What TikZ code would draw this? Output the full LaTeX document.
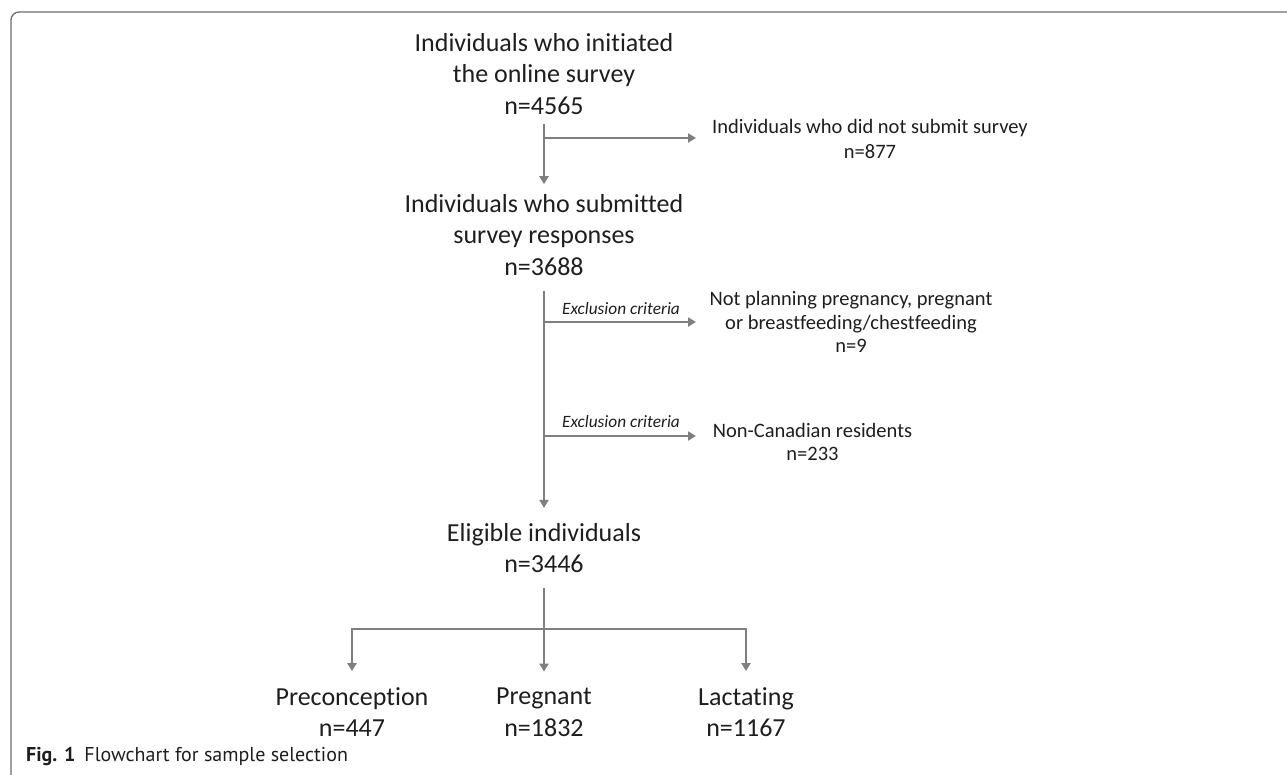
\documentclass[tikz,border=0pt]{standalone}
\usepackage{fontspec}
\setmainfont{Carlito}[Ligatures=NoCommon]
\newfontfamily\capfont{PT Sans}
\usetikzlibrary{arrows.meta}
\definecolor{arrowgray}{HTML}{7F7F7F}
\definecolor{textcol}{HTML}{1E1E1E}
\definecolor{framecol}{HTML}{6A6A6A}
\begin{document}
\begin{tikzpicture}[x=1pt,y=-1pt,
  line/.style={draw=arrowgray, line width=2.2pt},
  flow/.style={line, -{Triangle[width=9pt,length=8pt]}},
  bigbox/.style={align=center, inner sep=0pt, text=textcol, font=\fontsize{26}{31.5}\selectfont},
  sidebox/.style={align=center, inner sep=0pt, text=textcol, font=\fontsize{20.5}{24.5}\selectfont},
  midbox/.style={align=center, inner sep=0pt, text=textcol, font=\fontsize{20.5}{23.5}\selectfont},
  critlabel/.style={inner sep=0pt, text=textcol, font=\fontsize{17.3}{20}\selectfont\itshape},
  ]
\useasboundingbox (0,0) rectangle (1287,774);
\draw[framecol, line width=1.3pt, rounded corners=8pt] (11,780) -- (11,12) -- (1295,12);

% main column
\node[bigbox] (n1) at (544,74) {Individuals who initiated\\the online survey\\n=4565};
\node[bigbox] (n2) at (544,235) {Individuals who submitted\\survey responses\\n=3688};
\node[bigbox] (n3) at (544,548) {Eligible individuals\\n=3446};
\node[bigbox] (p1) at (352,712) {Preconception\\n=447};
\node[bigbox] (p2) at (544,712) {Pregnant\\n=1832};
\node[bigbox] (p3) at (746,712) {Lactating\\n=1167};

% side boxes
\node[sidebox] (r1) at (870,139) {Individuals who did not submit survey\\n=877};
\node[midbox] (r2) at (851,322) {Not planning pregnancy, pregnant\\or breastfeeding/chestfeeding\\n=9};
\node[midbox] (r3) at (812.5,442) {Non-Canadian residents\\n=233};
\node[critlabel] (c1) at (621,308.5) {Exclusion criteria};
\node[critlabel] (c2) at (621,422) {Exclusion criteria};

% junction coordinates
\coordinate (j1) at (544,138);
\coordinate (e1) at (696,138);
\coordinate (j2) at (544,322);
\coordinate (e2) at (696,322);
\coordinate (j3) at (544,436);
\coordinate (e3) at (696,436);
\coordinate (j4) at (544,629);
\coordinate (jl) at (352,629);
\coordinate (jr) at (746,629);

% connectors
\draw[flow, shorten <=9pt, shorten >=10pt] (n1) -- (n2);
\draw[flow] (j1) -- (e1);
\draw[flow, shorten <=15pt, shorten >=15pt] (n2) -- (n3);
\draw[flow] (j2) -- (e2);
\draw[flow] (j3) -- (e3);
\draw[line, shorten <=15pt] (n3) -- (j4);
\draw[line] ([xshift=-1.1pt]jl) -- ([xshift=1.1pt]jr);
\draw[flow, shorten >=16pt] (jl) -- (p1);
\draw[flow, shorten >=16pt] (j4) -- (p2);
\draw[flow, shorten >=16pt] (jr) -- (p3);

% caption
\node[anchor=base west, inner sep=0pt, text=textcol, font=\capfont\fontsize{20}{24}\selectfont] (cap) at (26,761) {\textbf{Fig. 1}\hspace{0.45em}Flowchart for sample selection};
\end{tikzpicture}
\end{document}
